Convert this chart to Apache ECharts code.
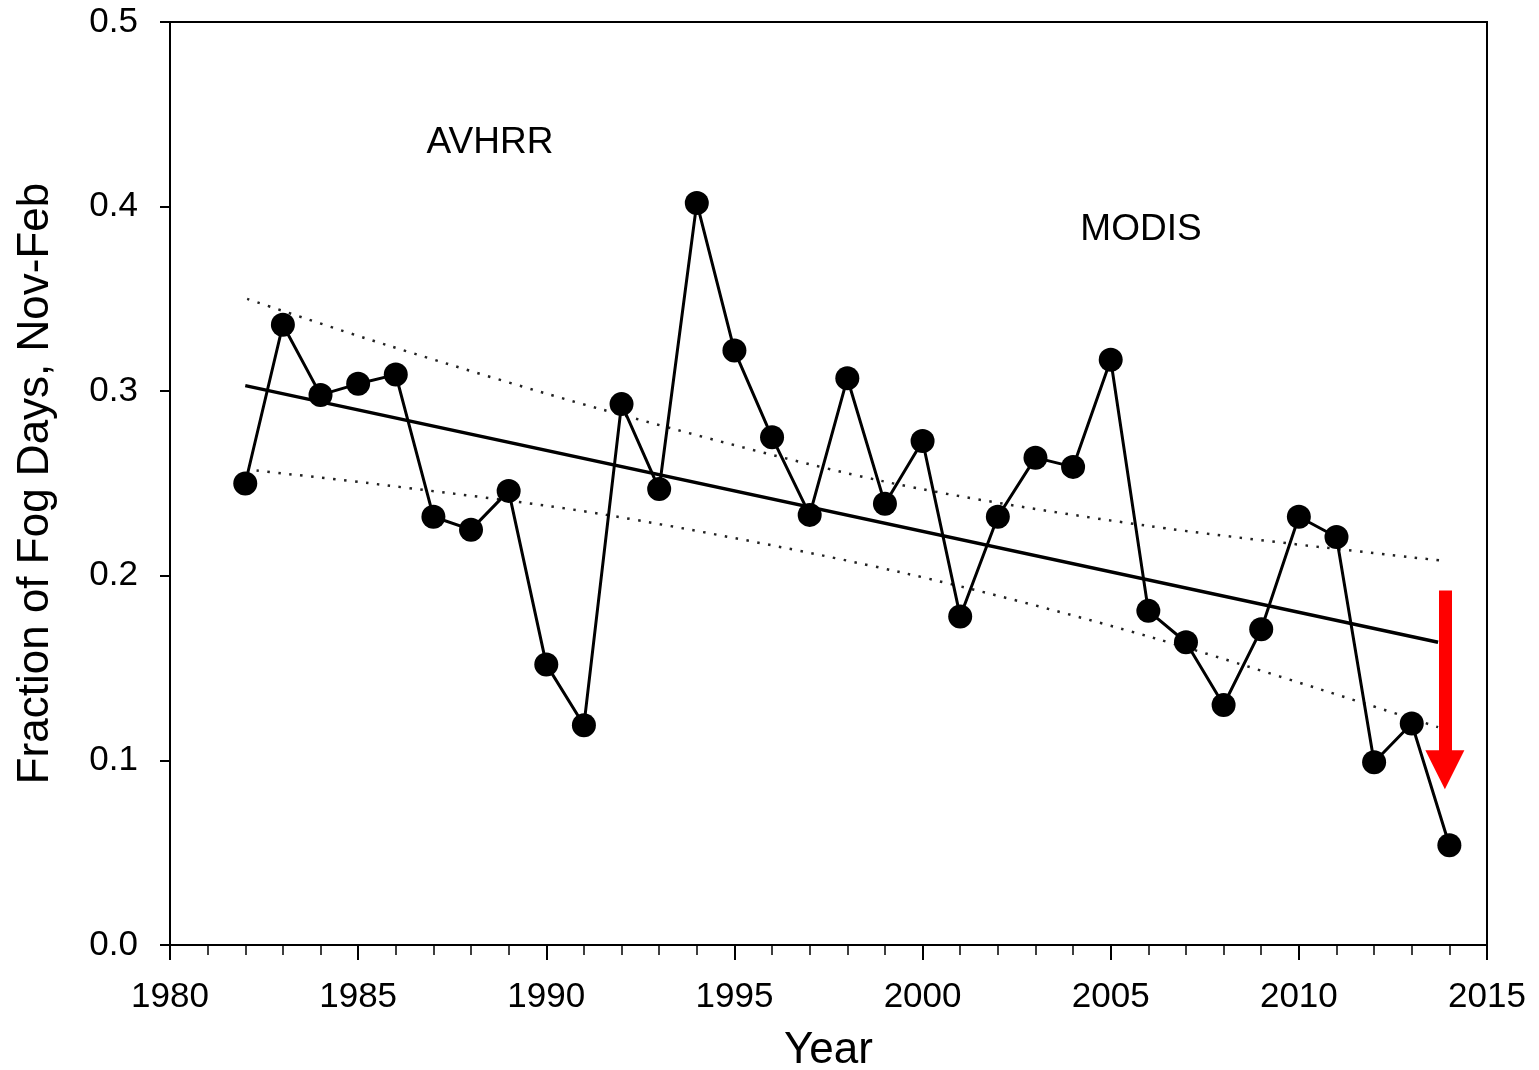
<!DOCTYPE html>
<html>
<head>
<meta charset="utf-8">
<title>Fog days</title>
<script src="https://cdn.jsdelivr.net/npm/echarts@6/dist/echarts.min.js"></script>
<style>
  html, body { margin: 0; padding: 0; background: #fff; }
  #chart { width: 1539px; height: 1070px; }
</style>
</head>
<body>
<div id="chart"></div>
<script>
// yearly fraction of fog days, Nov-Feb
var years = [1982, 1983, 1984, 1985, 1986, 1987, 1988, 1989, 1990, 1991, 1992,
  1993, 1994, 1995, 1996, 1997, 1998, 1999, 2000, 2001, 2002, 2003, 2004,
  2005, 2006, 2007, 2008, 2009, 2010, 2011, 2012, 2013, 2014];
var fogFraction = [0.250, 0.336, 0.298, 0.304, 0.309, 0.232, 0.225, 0.246, 0.152,
  0.119, 0.293, 0.247, 0.402, 0.322, 0.275, 0.233, 0.307, 0.239, 0.273, 0.178,
  0.232, 0.264, 0.259, 0.317, 0.181, 0.164, 0.130, 0.171, 0.232, 0.221, 0.099,
  0.120, 0.054];

// linear trend (end points)
var trendYears = [1982, 2013.7];
var trendValues = [0.303, 0.164];

// confidence band
var upperYears = [1982.05, 1985.76, 1991.5, 1999.0, 2006.0, 2013.9];
var upperValues = [0.350, 0.325, 0.290, 0.251, 0.227, 0.208];
var lowerYears = [1982.3, 1985.76, 1991.6, 1999.4, 2006.2, 2013.7];
var lowerValues = [0.257, 0.249, 0.233, 0.202, 0.166, 0.118];

// red arrow
var arrowYear = 2013.88;
var arrowFrom = 0.192;
var arrowTo = 0.095;

var xTicks = [1980, 1985, 1990, 1995, 2000, 2005, 2010, 2015];
var yTicks = [0.0, 0.1, 0.2, 0.3, 0.4, 0.5];

function pairs(xs, ys) {
  var out = [];
  for (var i = 0; i < xs.length; i++) {
    out.push([xs[i], ys[i]]);
  }
  return out;
}

var FONT = '"Liberation Sans", Arial, sans-serif';

var myChart = echarts.init(document.getElementById('chart'));
myChart.setOption({
  animation: false,
  backgroundColor: '#fff',
  grid: {
    left: 170, right: 52, top: 22, bottom: 125,
    outerBoundsMode: 'none',
    show: true, borderColor: '#000', borderWidth: 2
  },
  xAxis: {
    type: 'value',
    min: xTicks[0], max: xTicks[xTicks.length - 1], interval: 5,
    name: 'Year', nameLocation: 'middle', nameGap: 84,
    nameTextStyle: { fontFamily: FONT, fontSize: 44, color: '#000' },
    axisLine: { lineStyle: { color: '#000', width: 2 } },
    axisTick: { length: 15, lineStyle: { color: '#000', width: 2 } },
    minorTick: { show: true, splitNumber: 5, length: 10, lineStyle: { color: '#000', width: 1.5 } },
    axisLabel: {
      fontFamily: FONT, fontSize: 35, color: '#000', margin: 35,
      formatter: function (v) { return String(v); }
    },
    splitLine: { show: false }
  },
  yAxis: {
    type: 'value',
    min: yTicks[0], max: yTicks[yTicks.length - 1], interval: 0.1,
    name: 'Fraction of Fog Days, Nov-Feb', nameLocation: 'middle', nameGap: 112,
    nameTextStyle: { fontFamily: FONT, fontSize: 44, color: '#000' },
    axisLine: { lineStyle: { color: '#000', width: 2 } },
    axisTick: { length: 10, lineStyle: { color: '#000', width: 2 } },
    axisLabel: {
      fontFamily: FONT, fontSize: 35, color: '#000', margin: 32,
      formatter: function (v) { return v.toFixed(1); }
    },
    splitLine: { show: false }
  },
  graphic: [
    { type: 'text', x: 490, y: 143, style: { text: 'AVHRR', font: '37px ' + FONT, fill: '#000', align: 'center', verticalAlign: 'middle' } },
    { type: 'text', x: 1141, y: 230, style: { text: 'MODIS', font: '37px ' + FONT, fill: '#000', align: 'center', verticalAlign: 'middle' } }
  ],
  series: [
    {
      name: 'upper', type: 'line', data: pairs(upperYears, upperValues),
      smooth: 0.3, showSymbol: false, symbol: 'none',
      lineStyle: { color: '#222', width: 2.5, type: [2.5, 8.5] }, z: 1
    },
    {
      name: 'lower', type: 'line', data: pairs(lowerYears, lowerValues),
      smooth: 0.3, showSymbol: false, symbol: 'none',
      lineStyle: { color: '#222', width: 2.5, type: [2.5, 8.5] }, z: 1
    },
    {
      name: 'trend', type: 'line', data: pairs(trendYears, trendValues),
      showSymbol: false, symbol: 'none',
      lineStyle: { color: '#000', width: 3.5 }, z: 2
    },
    {
      name: 'fog', type: 'line', data: pairs(years, fogFraction),
      symbol: 'circle', symbolSize: 24,
      itemStyle: { color: '#000' },
      lineStyle: { color: '#000', width: 3 }, z: 3,
      markLine: {
        silent: true,
        symbol: ['none', 'path://M5,0 L10,10 L0,10 Z'],
        symbolSize: [39, 39],
        label: { show: false },
        lineStyle: { color: '#ff0000', width: 13, type: 'solid', cap: 'butt' },
        data: [[{ coord: [arrowYear, arrowFrom] }, { coord: [arrowYear, arrowTo] }]]
      }
    }
  ]
});
</script>
</body>
</html>
